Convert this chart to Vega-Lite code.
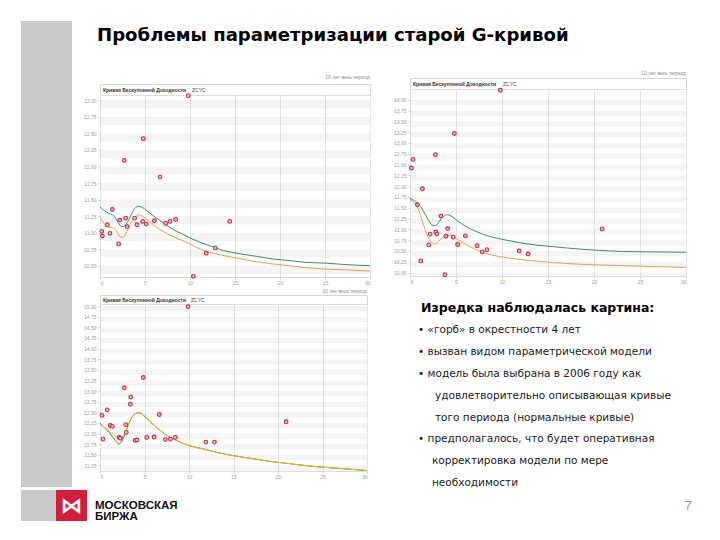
{
"$schema": "https://vega.github.io/schema/vega-lite/v6.json",
"background": "white",
"padding": {"left": 21, "top": 21, "right": 0, "bottom": 0},
"config": {
  "font": "Liberation Sans",
  "view": {"stroke": null},
  "axis": {"labelFont": "Liberation Sans", "labelFontSize": 5, "labelColor": "#9a9a9a", "tickSize": 2, "tickColor": "#d0d0d0", "domain": false, "title": null, "gridColor": "#e6e6e6", "labelOverlap": false},
  "title": {"font": "Liberation Sans", "fontSize": 5, "fontWeight": "normal", "color": "#8a8a8a", "anchor": "end"}
},
"datasets": {
  "slide": [{"title": "Проблемы параметризации старой G-кривой", "logo": "МОСКОВСКАЯ\nБИРЖА", "page": "7"}],
  "heads": [
    {"panel": 1, "name": "Кривая Бескупонной Доходности", "code": "ZCYC"},
    {"panel": 2, "name": "Кривая Бескупонной Доходности", "code": "ZCYC"},
    {"panel": 3, "name": "Кривая Бескупонной Доходности", "code": "ZCYC"}
  ],
  "notes": [
    {"line": 0, "kind": "head", "text": "Изредка наблюдалась картина:"},
    {"line": 1, "kind": "bullet", "text": "•\u00a0«горб» в окрестности 4 лет"},
    {"line": 2, "kind": "bullet", "text": "•\u00a0вызван видом параметрической модели"},
    {"line": 3, "kind": "bullet", "text": "•\u00a0модель была выбрана в 2006 году как"},
    {"line": 4, "kind": "cont", "text": "удовлетворительно описывающая кривые"},
    {"line": 5, "kind": "cont", "text": "того периода (нормальные кривые)"},
    {"line": 6, "kind": "bullet", "text": "•\u00a0предполагалось, что будет оперативная"},
    {"line": 7, "kind": "cont2", "text": "корректировка модели  по мере"},
    {"line": 8, "kind": "cont2", "text": "необходимости"}
  ],
  "bands": [
    {"panel": 1, "lo": 10.375, "hi": 10.5}, {"panel": 1, "lo": 10.625, "hi": 10.75}, {"panel": 1, "lo": 10.875, "hi": 11.0}, {"panel": 1, "lo": 11.125, "hi": 11.25}, {"panel": 1, "lo": 11.375, "hi": 11.5}, {"panel": 1, "lo": 11.625, "hi": 11.75}, {"panel": 1, "lo": 11.875, "hi": 12.0}, {"panel": 1, "lo": 12.125, "hi": 12.25}, {"panel": 1, "lo": 12.375, "hi": 12.5}, {"panel": 1, "lo": 12.625, "hi": 12.75}, {"panel": 1, "lo": 12.875, "hi": 13.0},
    {"panel": 2, "lo": 9.875, "hi": 10.0}, {"panel": 2, "lo": 10.125, "hi": 10.25}, {"panel": 2, "lo": 10.375, "hi": 10.5}, {"panel": 2, "lo": 10.625, "hi": 10.75}, {"panel": 2, "lo": 10.875, "hi": 11.0}, {"panel": 2, "lo": 11.125, "hi": 11.25}, {"panel": 2, "lo": 11.375, "hi": 11.5}, {"panel": 2, "lo": 11.625, "hi": 11.75}, {"panel": 2, "lo": 11.875, "hi": 12.0}, {"panel": 2, "lo": 12.125, "hi": 12.25}, {"panel": 2, "lo": 12.375, "hi": 12.5}, {"panel": 2, "lo": 12.625, "hi": 12.75}, {"panel": 2, "lo": 12.875, "hi": 13.0}, {"panel": 2, "lo": 13.125, "hi": 13.25}, {"panel": 2, "lo": 13.375, "hi": 13.5}, {"panel": 2, "lo": 13.625, "hi": 13.75}, {"panel": 2, "lo": 13.875, "hi": 14.0},
    {"panel": 3, "lo": 11.125, "hi": 11.25}, {"panel": 3, "lo": 11.375, "hi": 11.5}, {"panel": 3, "lo": 11.625, "hi": 11.75}, {"panel": 3, "lo": 11.875, "hi": 12.0}, {"panel": 3, "lo": 12.125, "hi": 12.25}, {"panel": 3, "lo": 12.375, "hi": 12.5}, {"panel": 3, "lo": 12.625, "hi": 12.75}, {"panel": 3, "lo": 12.875, "hi": 13.0}, {"panel": 3, "lo": 13.125, "hi": 13.25}, {"panel": 3, "lo": 13.375, "hi": 13.5}, {"panel": 3, "lo": 13.625, "hi": 13.75}, {"panel": 3, "lo": 13.875, "hi": 14.0}, {"panel": 3, "lo": 14.125, "hi": 14.25}, {"panel": 3, "lo": 14.375, "hi": 14.5}, {"panel": 3, "lo": 14.625, "hi": 14.75}, {"panel": 3, "lo": 14.875, "hi": 15.0}
  ],
  "pts": [
    {"panel": 1, "x": 0.19, "y": 11.02}, {"panel": 1, "x": 0.26, "y": 10.95}, {"panel": 1, "x": 0.81, "y": 11.12}, {"panel": 1, "x": 1.11, "y": 10.99}, {"panel": 1, "x": 1.37, "y": 11.35}, {"panel": 1, "x": 2.07, "y": 10.83}, {"panel": 1, "x": 2.19, "y": 11.19}, {"panel": 1, "x": 2.70, "y": 12.09}, {"panel": 1, "x": 2.85, "y": 11.22}, {"panel": 1, "x": 3.00, "y": 11.09}, {"panel": 1, "x": 3.85, "y": 11.22}, {"panel": 1, "x": 4.11, "y": 11.12}, {"panel": 1, "x": 4.74, "y": 11.17}, {"panel": 1, "x": 4.81, "y": 12.42}, {"panel": 1, "x": 5.15, "y": 11.13}, {"panel": 1, "x": 6.04, "y": 11.18}, {"panel": 1, "x": 6.67, "y": 11.84}, {"panel": 1, "x": 7.30, "y": 11.14}, {"panel": 1, "x": 7.78, "y": 11.17}, {"panel": 1, "x": 8.41, "y": 11.20}, {"panel": 1, "x": 9.81, "y": 13.07}, {"panel": 1, "x": 10.37, "y": 10.34}, {"panel": 1, "x": 11.81, "y": 10.69}, {"panel": 1, "x": 12.81, "y": 10.77}, {"panel": 1, "x": 14.41, "y": 11.17},
    {"panel": 2, "x": 0.15, "y": 12.42}, {"panel": 2, "x": 0.33, "y": 12.62}, {"panel": 2, "x": 0.80, "y": 11.57}, {"panel": 2, "x": 1.17, "y": 10.27}, {"panel": 2, "x": 1.35, "y": 11.94}, {"panel": 2, "x": 2.04, "y": 10.64}, {"panel": 2, "x": 2.19, "y": 10.89}, {"panel": 2, "x": 2.77, "y": 12.73}, {"panel": 2, "x": 2.81, "y": 10.94}, {"panel": 2, "x": 2.92, "y": 10.89}, {"panel": 2, "x": 3.36, "y": 11.31}, {"panel": 2, "x": 3.80, "y": 9.95}, {"panel": 2, "x": 3.90, "y": 10.84}, {"panel": 2, "x": 4.09, "y": 11.02}, {"panel": 2, "x": 4.71, "y": 10.82}, {"panel": 2, "x": 4.82, "y": 13.22}, {"panel": 2, "x": 5.18, "y": 10.65}, {"panel": 2, "x": 6.02, "y": 10.85}, {"panel": 2, "x": 7.30, "y": 10.62}, {"panel": 2, "x": 7.85, "y": 10.48}, {"panel": 2, "x": 8.36, "y": 10.53}, {"panel": 2, "x": 9.82, "y": 14.22}, {"panel": 2, "x": 11.86, "y": 10.50}, {"panel": 2, "x": 12.85, "y": 10.43}, {"panel": 2, "x": 20.88, "y": 11.01},
    {"panel": 3, "x": 0.22, "y": 12.43}, {"panel": 3, "x": 0.34, "y": 11.87}, {"panel": 3, "x": 0.82, "y": 12.56}, {"panel": 3, "x": 1.16, "y": 12.19}, {"panel": 3, "x": 1.39, "y": 12.17}, {"panel": 3, "x": 2.14, "y": 11.91}, {"panel": 3, "x": 2.29, "y": 11.89}, {"panel": 3, "x": 2.74, "y": 13.08}, {"panel": 3, "x": 2.89, "y": 12.21}, {"panel": 3, "x": 2.96, "y": 12.03}, {"panel": 3, "x": 3.45, "y": 12.86}, {"panel": 3, "x": 3.41, "y": 12.69}, {"panel": 3, "x": 3.94, "y": 11.84}, {"panel": 3, "x": 4.16, "y": 11.85}, {"panel": 3, "x": 4.87, "y": 13.32}, {"panel": 3, "x": 5.25, "y": 11.91}, {"panel": 3, "x": 6.08, "y": 11.92}, {"panel": 3, "x": 6.67, "y": 12.45}, {"panel": 3, "x": 7.35, "y": 11.86}, {"panel": 3, "x": 7.91, "y": 11.87}, {"panel": 3, "x": 8.47, "y": 11.91}, {"panel": 3, "x": 9.90, "y": 14.99}, {"panel": 3, "x": 11.89, "y": 11.80}, {"panel": 3, "x": 12.86, "y": 11.80}, {"panel": 3, "x": 20.92, "y": 12.28}
  ],
  "curves": [
    {"panel": 1, "curve": "green", "x": 0, "y": 11.39}, {"panel": 1, "curve": "green", "x": 0.5, "y": 11.33}, {"panel": 1, "curve": "green", "x": 1.0, "y": 11.29}, {"panel": 1, "curve": "green", "x": 1.5, "y": 11.26}, {"panel": 1, "curve": "green", "x": 2.0, "y": 11.16}, {"panel": 1, "curve": "green", "x": 2.4, "y": 11.09}, {"panel": 1, "curve": "green", "x": 2.8, "y": 11.11}, {"panel": 1, "curve": "green", "x": 3.1, "y": 11.17}, {"panel": 1, "curve": "green", "x": 3.5, "y": 11.28}, {"panel": 1, "curve": "green", "x": 3.9, "y": 11.37}, {"panel": 1, "curve": "green", "x": 4.25, "y": 11.40}, {"panel": 1, "curve": "green", "x": 4.7, "y": 11.38}, {"panel": 1, "curve": "green", "x": 5.2, "y": 11.33}, {"panel": 1, "curve": "green", "x": 5.8, "y": 11.27}, {"panel": 1, "curve": "green", "x": 6.5, "y": 11.20}, {"panel": 1, "curve": "green", "x": 7.2, "y": 11.13}, {"panel": 1, "curve": "green", "x": 8.1, "y": 11.05}, {"panel": 1, "curve": "green", "x": 9, "y": 10.99}, {"panel": 1, "curve": "green", "x": 10, "y": 10.92}, {"panel": 1, "curve": "green", "x": 11, "y": 10.86}, {"panel": 1, "curve": "green", "x": 12, "y": 10.81}, {"panel": 1, "curve": "green", "x": 13.7, "y": 10.73}, {"panel": 1, "curve": "green", "x": 15.6, "y": 10.68}, {"panel": 1, "curve": "green", "x": 17.5, "y": 10.64}, {"panel": 1, "curve": "green", "x": 19.3, "y": 10.60}, {"panel": 1, "curve": "green", "x": 21, "y": 10.58}, {"panel": 1, "curve": "green", "x": 23, "y": 10.55}, {"panel": 1, "curve": "green", "x": 25, "y": 10.54}, {"panel": 1, "curve": "green", "x": 27, "y": 10.52}, {"panel": 1, "curve": "green", "x": 30, "y": 10.50},
    {"panel": 1, "curve": "orange", "x": 0, "y": 11.23}, {"panel": 1, "curve": "orange", "x": 0.5, "y": 11.13}, {"panel": 1, "curve": "orange", "x": 1.0, "y": 11.08}, {"panel": 1, "curve": "orange", "x": 1.5, "y": 11.07}, {"panel": 1, "curve": "orange", "x": 1.9, "y": 11.01}, {"panel": 1, "curve": "orange", "x": 2.3, "y": 10.93}, {"panel": 1, "curve": "orange", "x": 2.6, "y": 10.93}, {"panel": 1, "curve": "orange", "x": 3.0, "y": 11.02}, {"panel": 1, "curve": "orange", "x": 3.5, "y": 11.16}, {"panel": 1, "curve": "orange", "x": 4.0, "y": 11.25}, {"panel": 1, "curve": "orange", "x": 4.3, "y": 11.27}, {"panel": 1, "curve": "orange", "x": 4.8, "y": 11.24}, {"panel": 1, "curve": "orange", "x": 5.5, "y": 11.17}, {"panel": 1, "curve": "orange", "x": 6.3, "y": 11.08}, {"panel": 1, "curve": "orange", "x": 7.0, "y": 11.02}, {"panel": 1, "curve": "orange", "x": 8.0, "y": 10.95}, {"panel": 1, "curve": "orange", "x": 9.0, "y": 10.89}, {"panel": 1, "curve": "orange", "x": 10, "y": 10.83}, {"panel": 1, "curve": "orange", "x": 11, "y": 10.76}, {"panel": 1, "curve": "orange", "x": 12, "y": 10.71}, {"panel": 1, "curve": "orange", "x": 13.5, "y": 10.66}, {"panel": 1, "curve": "orange", "x": 15, "y": 10.62}, {"panel": 1, "curve": "orange", "x": 17, "y": 10.57}, {"panel": 1, "curve": "orange", "x": 19, "y": 10.53}, {"panel": 1, "curve": "orange", "x": 21, "y": 10.50}, {"panel": 1, "curve": "orange", "x": 23, "y": 10.47}, {"panel": 1, "curve": "orange", "x": 25, "y": 10.45}, {"panel": 1, "curve": "orange", "x": 27, "y": 10.44}, {"panel": 1, "curve": "orange", "x": 30, "y": 10.42},
    {"panel": 2, "curve": "green", "x": 0, "y": 11.72}, {"panel": 2, "curve": "green", "x": 0.5, "y": 11.66}, {"panel": 2, "curve": "green", "x": 1.0, "y": 11.57}, {"panel": 2, "curve": "green", "x": 1.5, "y": 11.41}, {"panel": 2, "curve": "green", "x": 2.0, "y": 11.22}, {"panel": 2, "curve": "green", "x": 2.5, "y": 11.09}, {"panel": 2, "curve": "green", "x": 2.8, "y": 11.09}, {"panel": 2, "curve": "green", "x": 3.2, "y": 11.19}, {"panel": 2, "curve": "green", "x": 3.6, "y": 11.29}, {"panel": 2, "curve": "green", "x": 4.1, "y": 11.34}, {"panel": 2, "curve": "green", "x": 4.6, "y": 11.29}, {"panel": 2, "curve": "green", "x": 5.2, "y": 11.19}, {"panel": 2, "curve": "green", "x": 6, "y": 11.08}, {"panel": 2, "curve": "green", "x": 7, "y": 10.97}, {"panel": 2, "curve": "green", "x": 8, "y": 10.88}, {"panel": 2, "curve": "green", "x": 9, "y": 10.82}, {"panel": 2, "curve": "green", "x": 10, "y": 10.77}, {"panel": 2, "curve": "green", "x": 11, "y": 10.73}, {"panel": 2, "curve": "green", "x": 12.8, "y": 10.66}, {"panel": 2, "curve": "green", "x": 15, "y": 10.61}, {"panel": 2, "curve": "green", "x": 17, "y": 10.57}, {"panel": 2, "curve": "green", "x": 20, "y": 10.52}, {"panel": 2, "curve": "green", "x": 23, "y": 10.49}, {"panel": 2, "curve": "green", "x": 26, "y": 10.48}, {"panel": 2, "curve": "green", "x": 30, "y": 10.47},
    {"panel": 2, "curve": "orange", "x": 0, "y": 11.70}, {"panel": 2, "curve": "orange", "x": 0.5, "y": 11.60}, {"panel": 2, "curve": "orange", "x": 0.8, "y": 11.52}, {"panel": 2, "curve": "orange", "x": 1.2, "y": 11.28}, {"panel": 2, "curve": "orange", "x": 1.6, "y": 11.02}, {"panel": 2, "curve": "orange", "x": 2.0, "y": 10.80}, {"panel": 2, "curve": "orange", "x": 2.4, "y": 10.69}, {"panel": 2, "curve": "orange", "x": 2.7, "y": 10.66}, {"panel": 2, "curve": "orange", "x": 3.1, "y": 10.72}, {"panel": 2, "curve": "orange", "x": 3.6, "y": 10.82}, {"panel": 2, "curve": "orange", "x": 4.1, "y": 10.86}, {"panel": 2, "curve": "orange", "x": 4.5, "y": 10.85}, {"panel": 2, "curve": "orange", "x": 5.2, "y": 10.76}, {"panel": 2, "curve": "orange", "x": 6, "y": 10.66}, {"panel": 2, "curve": "orange", "x": 7, "y": 10.55}, {"panel": 2, "curve": "orange", "x": 8, "y": 10.46}, {"panel": 2, "curve": "orange", "x": 9, "y": 10.40}, {"panel": 2, "curve": "orange", "x": 10, "y": 10.36}, {"panel": 2, "curve": "orange", "x": 12, "y": 10.30}, {"panel": 2, "curve": "orange", "x": 14, "y": 10.26}, {"panel": 2, "curve": "orange", "x": 17, "y": 10.21}, {"panel": 2, "curve": "orange", "x": 20, "y": 10.18}, {"panel": 2, "curve": "orange", "x": 23, "y": 10.16}, {"panel": 2, "curve": "orange", "x": 26, "y": 10.14}, {"panel": 2, "curve": "orange", "x": 30, "y": 10.12},
    {"panel": 3, "curve": "olive", "x": 0, "y": 12.24}, {"panel": 3, "curve": "olive", "x": 0.5, "y": 12.14}, {"panel": 3, "curve": "olive", "x": 1.0, "y": 12.03}, {"panel": 3, "curve": "olive", "x": 1.5, "y": 11.90}, {"panel": 3, "curve": "olive", "x": 1.9, "y": 11.79}, {"panel": 3, "curve": "olive", "x": 2.1, "y": 11.76}, {"panel": 3, "curve": "olive", "x": 2.4, "y": 11.80}, {"panel": 3, "curve": "olive", "x": 2.8, "y": 11.98}, {"panel": 3, "curve": "olive", "x": 3.2, "y": 12.22}, {"panel": 3, "curve": "olive", "x": 3.6, "y": 12.39}, {"panel": 3, "curve": "olive", "x": 4.1, "y": 12.48}, {"panel": 3, "curve": "olive", "x": 4.4, "y": 12.49}, {"panel": 3, "curve": "olive", "x": 5.0, "y": 12.41}, {"panel": 3, "curve": "olive", "x": 5.8, "y": 12.25}, {"panel": 3, "curve": "olive", "x": 6.5, "y": 12.12}, {"panel": 3, "curve": "olive", "x": 7.3, "y": 11.99}, {"panel": 3, "curve": "olive", "x": 8.1, "y": 11.89}, {"panel": 3, "curve": "olive", "x": 9, "y": 11.80}, {"panel": 3, "curve": "olive", "x": 10, "y": 11.72}, {"panel": 3, "curve": "olive", "x": 11.8, "y": 11.63}, {"panel": 3, "curve": "olive", "x": 13.5, "y": 11.54}, {"panel": 3, "curve": "olive", "x": 15.6, "y": 11.46}, {"panel": 3, "curve": "olive", "x": 17.5, "y": 11.40}, {"panel": 3, "curve": "olive", "x": 19.3, "y": 11.34}, {"panel": 3, "curve": "olive", "x": 21, "y": 11.30}, {"panel": 3, "curve": "olive", "x": 23, "y": 11.25}, {"panel": 3, "curve": "olive", "x": 25, "y": 11.21}, {"panel": 3, "curve": "olive", "x": 27, "y": 11.18}, {"panel": 3, "curve": "olive", "x": 30, "y": 11.13},
    {"panel": 3, "curve": "yellow", "x": 0, "y": 12.23}, {"panel": 3, "curve": "yellow", "x": 0.5, "y": 12.15}, {"panel": 3, "curve": "yellow", "x": 1.0, "y": 12.06}, {"panel": 3, "curve": "yellow", "x": 1.5, "y": 11.98}, {"panel": 3, "curve": "yellow", "x": 1.9, "y": 11.91}, {"panel": 3, "curve": "yellow", "x": 2.2, "y": 11.89}, {"panel": 3, "curve": "yellow", "x": 2.5, "y": 11.92}, {"panel": 3, "curve": "yellow", "x": 2.8, "y": 12.03}, {"panel": 3, "curve": "yellow", "x": 3.2, "y": 12.23}, {"panel": 3, "curve": "yellow", "x": 3.6, "y": 12.39}, {"panel": 3, "curve": "yellow", "x": 4.1, "y": 12.48}, {"panel": 3, "curve": "yellow", "x": 4.4, "y": 12.49}, {"panel": 3, "curve": "yellow", "x": 5.0, "y": 12.41}, {"panel": 3, "curve": "yellow", "x": 5.8, "y": 12.25}, {"panel": 3, "curve": "yellow", "x": 6.5, "y": 12.12}, {"panel": 3, "curve": "yellow", "x": 7.3, "y": 11.99}, {"panel": 3, "curve": "yellow", "x": 8.1, "y": 11.89}, {"panel": 3, "curve": "yellow", "x": 9, "y": 11.80}, {"panel": 3, "curve": "yellow", "x": 10, "y": 11.72}, {"panel": 3, "curve": "yellow", "x": 11.8, "y": 11.63}, {"panel": 3, "curve": "yellow", "x": 13.5, "y": 11.54}, {"panel": 3, "curve": "yellow", "x": 15.6, "y": 11.46}, {"panel": 3, "curve": "yellow", "x": 17.5, "y": 11.40}, {"panel": 3, "curve": "yellow", "x": 19.3, "y": 11.34}, {"panel": 3, "curve": "yellow", "x": 21, "y": 11.30}, {"panel": 3, "curve": "yellow", "x": 23, "y": 11.25}, {"panel": 3, "curve": "yellow", "x": 25, "y": 11.21}, {"panel": 3, "curve": "yellow", "x": 27, "y": 11.18}, {"panel": 3, "curve": "yellow", "x": 30, "y": 11.13}
  ]
},
"spacing": 0,
"vconcat": [
  {
    "spacing": 10,
    "hconcat": [
      {"width": 51, "height": 466, "view": {"fill": "#c9c9c9", "stroke": null}, "data": {"name": "slide"}, "mark": {"type": "text"}, "encoding": {"text": {"value": ""}}},
      {
        "spacing": 2,
        "vconcat": [
          {"width": 10, "height": 47, "data": {"name": "slide"},
           "mark": {"type": "text", "align": "left", "baseline": "middle", "dx": -3, "dy": -9, "font": "DejaVu Sans", "fontSize": 18.1, "fontWeight": "bold", "color": "#000000"},
           "encoding": {"x": {"datum": 0, "type": "quantitative", "scale": {"domain": [0, 1]}, "axis": null}, "text": {"field": "title"}}},
          {
            "spacing": 21,
            "hconcat": [
              {
                "spacing": 0, "bounds": "flush",
                "vconcat": [
                  {"width": 270, "height": 6, "data": {"name": "slide"}, "mark": {"type": "text"}, "encoding": {"text": {"value": ""}}},
                  {"width": 270, "height": 11, "view": {"stroke": "#d5d5d5", "fill": "white"},
                   "title": {"text": "10 лет   весь период", "offset": 4},
                   "data": {"name": "heads"}, "transform": [{"filter": "datum.panel == 1"}],
                   "encoding": {"x": {"datum": 0, "type": "quantitative", "scale": {"domain": [0, 1]}, "axis": null}},
                   "layer": [
                     {"mark": {"type": "text", "align": "left", "baseline": "middle", "dx": 3, "fontSize": 5, "fontWeight": "bold", "color": "#333333"}, "encoding": {"text": {"field": "name"}}},
                     {"mark": {"type": "text", "align": "left", "baseline": "middle", "dx": 92, "fontSize": 5, "color": "#444444"}, "encoding": {"text": {"field": "code"}}}
                   ]},
                  {"width": 270, "height": 182, "view": {"stroke": "#dcdcdc", "fill": "white"},
                   "layer": [
                     {"data": {"name": "bands"}, "transform": [{"filter": "datum.panel == 1"}], "mark": {"type": "rect", "color": "#000000", "opacity": 0.045, "clip": true},
                      "encoding": {"y": {"field": "lo", "type": "quantitative", "axis": {"values": [10.5, 10.75, 11, 11.25, 11.5, 11.75, 12, 12.25, 12.5, 12.75, 13], "format": ".2f", "grid": false, "labelPadding": 2, "labelOverlap": false}}, "y2": {"field": "hi"}}},
                     {"data": {"name": "curves"}, "transform": [{"filter": "datum.panel == 1"}], "mark": {"type": "line", "strokeWidth": 1, "interpolate": "monotone", "clip": true},
                      "encoding": {
                        "x": {"field": "x", "type": "quantitative", "scale": {"domain": [0, 30], "nice": false}, "axis": {"values": [0, 5, 10, 15, 20, 25, 30], "grid": true, "labelPadding": 1, "labelOverlap": false}},
                        "y": {"field": "y", "type": "quantitative", "scale": {"domain": [10.33, 13.08], "nice": false, "zero": false}, "axis": {"values": [10.5, 10.75, 11, 11.25, 11.5, 11.75, 12, 12.25, 12.5, 12.75, 13], "format": ".2f", "grid": false, "labelPadding": 2, "labelOverlap": false}},
                        "color": {"field": "curve", "type": "nominal", "scale": {"domain": ["green", "orange", "olive", "yellow"], "range": ["#3d8c68", "#e3a052", "#5b6b2e", "#d8c23a"]}, "legend": null}}},
                     {"data": {"name": "pts"}, "transform": [{"filter": "datum.panel == 1"}], "mark": {"type": "point", "shape": "circle", "filled": true, "fill": "#f2b6c3", "stroke": "#c0304a", "strokeWidth": 1.1, "size": 14, "opacity": 1},
                      "encoding": {"x": {"field": "x", "type": "quantitative", "axis": {"values": [0, 5, 10, 15, 20, 25, 30], "grid": true, "labelPadding": 1, "labelOverlap": false}}, "y": {"field": "y", "type": "quantitative", "axis": {"values": [10.5, 10.75, 11, 11.25, 11.5, 11.75, 12, 12.25, 12.5, 12.75, 13], "format": ".2f", "grid": false, "labelPadding": 2, "labelOverlap": false}}}}
                   ]}
                ]
              },
              {
                "spacing": 0, "bounds": "flush",
                "vconcat": [
                  {"width": 276, "height": 11, "view": {"stroke": "#d5d5d5", "fill": "white"},
                   "title": {"text": "10 лет   весь период", "offset": 2},
                   "data": {"name": "heads"}, "transform": [{"filter": "datum.panel == 2"}],
                   "encoding": {"x": {"datum": 0, "type": "quantitative", "scale": {"domain": [0, 1]}, "axis": null}},
                   "layer": [
                     {"mark": {"type": "text", "align": "left", "baseline": "middle", "dx": 3, "fontSize": 5, "fontWeight": "bold", "color": "#333333"}, "encoding": {"text": {"field": "name"}}},
                     {"mark": {"type": "text", "align": "left", "baseline": "middle", "dx": 93, "fontSize": 5, "color": "#444444"}, "encoding": {"text": {"field": "code"}}}
                   ]},
                  {"width": 276, "height": 187, "view": {"stroke": "#dcdcdc", "fill": "white"},
                   "layer": [
                     {"data": {"name": "bands"}, "transform": [{"filter": "datum.panel == 2"}], "mark": {"type": "rect", "color": "#000000", "opacity": 0.045, "clip": true},
                      "encoding": {"y": {"field": "lo", "type": "quantitative", "axis": {"values": [10, 10.25, 10.5, 10.75, 11, 11.25, 11.5, 11.75, 12, 12.25, 12.5, 12.75, 13, 13.25, 13.5, 13.75, 14], "format": ".2f", "grid": false, "labelPadding": 2, "labelOverlap": false}}, "y2": {"field": "hi"}}},
                     {"data": {"name": "curves"}, "transform": [{"filter": "datum.panel == 2"}], "mark": {"type": "line", "strokeWidth": 1, "interpolate": "monotone", "clip": true},
                      "encoding": {
                        "x": {"field": "x", "type": "quantitative", "scale": {"domain": [0, 30], "nice": false}, "axis": {"values": [0, 5, 10, 15, 20, 25, 30], "grid": true, "labelPadding": 1, "labelOverlap": false}},
                        "y": {"field": "y", "type": "quantitative", "scale": {"domain": [9.92, 14.25], "nice": false, "zero": false}, "axis": {"values": [10, 10.25, 10.5, 10.75, 11, 11.25, 11.5, 11.75, 12, 12.25, 12.5, 12.75, 13, 13.25, 13.5, 13.75, 14], "format": ".2f", "grid": false, "labelPadding": 2, "labelOverlap": false}},
                        "color": {"field": "curve", "type": "nominal", "scale": {"domain": ["green", "orange", "olive", "yellow"], "range": ["#3d8c68", "#e3a052", "#5b6b2e", "#d8c23a"]}, "legend": null}}},
                     {"data": {"name": "pts"}, "transform": [{"filter": "datum.panel == 2"}], "mark": {"type": "point", "shape": "circle", "filled": true, "fill": "#f2b6c3", "stroke": "#c0304a", "strokeWidth": 1.1, "size": 14, "opacity": 1},
                      "encoding": {"x": {"field": "x", "type": "quantitative", "axis": {"values": [0, 5, 10, 15, 20, 25, 30], "grid": true, "labelPadding": 1, "labelOverlap": false}}, "y": {"field": "y", "type": "quantitative", "axis": {"values": [10, 10.25, 10.5, 10.75, 11, 11.25, 11.5, 11.75, 12, 12.25, 12.5, 12.75, 13, 13.25, 13.5, 13.75, 14], "format": ".2f", "grid": false, "labelPadding": 2, "labelOverlap": false}}}}
                   ]}
                ]
              }
            ]
          },
          {
            "spacing": 50,
            "hconcat": [
              {
                "spacing": 0, "bounds": "flush",
                "vconcat": [
                  {"width": 267, "height": 9, "view": {"stroke": "#d5d5d5", "fill": "white"},
                   "title": {"text": "10 лет   весь период", "offset": 1},
                   "data": {"name": "heads"}, "transform": [{"filter": "datum.panel == 3"}],
                   "encoding": {"x": {"datum": 0, "type": "quantitative", "scale": {"domain": [0, 1]}, "axis": null}},
                   "layer": [
                     {"mark": {"type": "text", "align": "left", "baseline": "middle", "dx": 3, "fontSize": 5, "fontWeight": "bold", "color": "#333333"}, "encoding": {"text": {"field": "name"}}},
                     {"mark": {"type": "text", "align": "left", "baseline": "middle", "dx": 91, "fontSize": 5, "color": "#444444"}, "encoding": {"text": {"field": "code"}}}
                   ]},
                  {"width": 267, "height": 167, "view": {"stroke": "#dcdcdc", "fill": "white"},
                   "layer": [
                     {"data": {"name": "bands"}, "transform": [{"filter": "datum.panel == 3"}], "mark": {"type": "rect", "color": "#000000", "opacity": 0.045, "clip": true},
                      "encoding": {"y": {"field": "lo", "type": "quantitative", "axis": {"values": [11.25, 11.5, 11.75, 12, 12.25, 12.5, 12.75, 13, 13.25, 13.5, 13.75, 14, 14.25, 14.5, 14.75, 15], "format": ".2f", "grid": false, "labelPadding": 2, "labelOverlap": false}}, "y2": {"field": "hi"}}},
                     {"data": {"name": "curves"}, "transform": [{"filter": "datum.panel == 3"}], "mark": {"type": "line", "strokeWidth": 1, "interpolate": "monotone", "clip": true},
                      "encoding": {
                        "x": {"field": "x", "type": "quantitative", "scale": {"domain": [0, 30], "nice": false}, "axis": {"values": [0, 5, 10, 15, 20, 25, 30], "grid": true, "labelPadding": 1, "labelOverlap": false}},
                        "y": {"field": "y", "type": "quantitative", "scale": {"domain": [11.12, 15.05], "nice": false, "zero": false}, "axis": {"values": [11.25, 11.5, 11.75, 12, 12.25, 12.5, 12.75, 13, 13.25, 13.5, 13.75, 14, 14.25, 14.5, 14.75, 15], "format": ".2f", "grid": false, "labelPadding": 2, "labelOverlap": false}},
                        "color": {"field": "curve", "type": "nominal", "scale": {"domain": ["green", "orange", "olive", "yellow"], "range": ["#3d8c68", "#e3a052", "#5b6b2e", "#d8c23a"]}, "legend": null}}},
                     {"data": {"name": "pts"}, "transform": [{"filter": "datum.panel == 3"}], "mark": {"type": "point", "shape": "circle", "filled": true, "fill": "#f2b6c3", "stroke": "#c0304a", "strokeWidth": 1.1, "size": 14, "opacity": 1},
                      "encoding": {"x": {"field": "x", "type": "quantitative", "axis": {"values": [0, 5, 10, 15, 20, 25, 30], "grid": true, "labelPadding": 1, "labelOverlap": false}}, "y": {"field": "y", "type": "quantitative", "axis": {"values": [11.25, 11.5, 11.75, 12, 12.25, 12.5, 12.75, 13, 13.25, 13.5, 13.75, 14, 14.25, 14.5, 14.75, 15], "format": ".2f", "grid": false, "labelPadding": 2, "labelOverlap": false}}}}
                   ]}
                ]
              },
              {"width": 270, "height": 195, "data": {"name": "notes"},
               "encoding": {
                 "x": {"datum": 0, "type": "quantitative", "scale": {"domain": [0, 1]}, "axis": null},
                 "y": {"field": "line", "type": "quantitative", "scale": {"domain": [-0.594, 8.31], "reverse": true, "nice": false, "zero": false}, "axis": null},
                 "text": {"field": "text"}},
               "layer": [
                 {"transform": [{"filter": "datum.kind == 'head'"}], "mark": {"type": "text", "align": "left", "baseline": "middle", "dx": 3, "font": "DejaVu Sans", "fontSize": 12.5, "fontWeight": "bold", "color": "#000000"}},
                 {"transform": [{"filter": "datum.kind == 'bullet'"}], "mark": {"type": "text", "align": "left", "baseline": "middle", "font": "DejaVu Sans", "fontSize": 10.5, "color": "#1a1a1a"}},
                 {"transform": [{"filter": "datum.kind == 'cont'"}], "mark": {"type": "text", "align": "left", "baseline": "middle", "dx": 17, "font": "DejaVu Sans", "fontSize": 10.5, "color": "#1a1a1a"}},
                 {"transform": [{"filter": "datum.kind == 'cont2'"}], "mark": {"type": "text", "align": "left", "baseline": "middle", "dx": 14, "font": "DejaVu Sans", "fontSize": 10.5, "color": "#1a1a1a"}}
               ]}
            ]
          }
        ]
      }
    ]
  },
  {
    "spacing": 0, "bounds": "flush",
    "hconcat": [
      {"width": 35, "height": 31, "view": {"fill": "#c9c9c9", "stroke": null}, "data": {"name": "slide"}, "mark": {"type": "text"}, "encoding": {"text": {"value": ""}}},
      {"width": 31, "height": 31, "view": {"fill": "#d11f3c", "stroke": null}, "data": {"name": "slide"}, "mark": {"type": "text", "align": "center", "baseline": "middle", "font": "DejaVu Sans", "fontSize": 22, "fontWeight": "bold", "color": "#ffffff"}, "encoding": {"text": {"value": "⋈"}}},
      {"width": 601, "height": 31, "data": {"name": "slide"},
       "encoding": {"x": {"datum": 0, "type": "quantitative", "scale": {"domain": [0, 1]}, "axis": null}},
       "layer": [
         {"mark": {"type": "text", "align": "left", "baseline": "middle", "dx": 8, "lineBreak": "\n", "lineHeight": 11, "font": "Liberation Sans", "fontSize": 11.5, "fontWeight": "bold", "color": "#111111"}, "encoding": {"text": {"field": "logo"}}},
         {"mark": {"type": "text", "align": "center", "baseline": "middle", "font": "Liberation Sans", "fontSize": 13, "color": "#999999"}, "encoding": {"x": {"datum": 1, "type": "quantitative"}, "text": {"field": "page"}}}
       ]}
    ]
  }
]
}
